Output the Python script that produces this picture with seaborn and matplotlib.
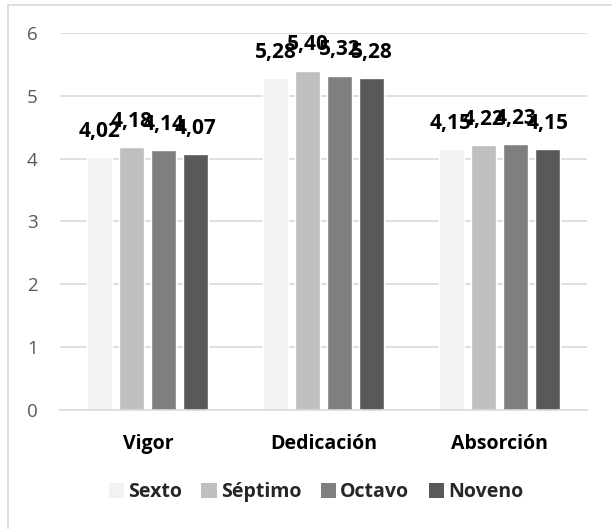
import matplotlib
matplotlib.use("Agg")
import matplotlib.pyplot as plt
import seaborn as sns
import pandas as pd
from matplotlib.patches import Rectangle
from matplotlib.lines import Line2D

categories = ["Vigor", "Dedicación", "Absorción"]
grades = ["Sexto", "Séptimo", "Octavo", "Noveno"]
sexto = [4.02, 5.28, 4.15]
septimo = [4.18, 5.40, 4.22]
octavo = [4.14, 5.32, 4.23]
noveno = [4.07, 5.28, 4.15]
yticks = [0, 1, 2, 3, 4, 5, 6]
colors = ["#F2F2F2", "#BFBFBF", "#7F7F7F", "#595959"]

rows = []
for g, vals in zip(grades, [sexto, septimo, octavo, noveno]):
    for c, v in zip(categories, vals):
        rows.append({"cat": c, "grade": g, "val": v})
df = pd.DataFrame(rows)

sns.set_theme(style="white")
plt.rcParams["font.family"] = ["Open Sans", "DejaVu Sans"]

fig = plt.figure(figsize=(6.12, 5.29), dpi=100)
ax = fig.add_axes([60/612, 1-410/529, (587-60)/612, (410-33)/529])

sns.barplot(data=df, x="cat", y="val", hue="grade", order=categories,
            hue_order=grades, palette=colors, width=0.73, gap=0.22,
            ax=ax, legend=False, saturation=1)

ax.set_ylim(0, 6)
ax.set_xlim(-0.5, 2.5)
ax.set_yticks(yticks)
ax.set_yticklabels([str(t) for t in yticks], fontsize=13.5, color="#595959")
ax.yaxis.grid(True, color="#D9D9D9", linewidth=1.2)
ax.set_axisbelow(True)
for s in ["top", "right", "left"]:
    ax.spines[s].set_visible(False)
ax.spines["bottom"].set_color("#D9D9D9")
ax.spines["bottom"].set_linewidth(1.2)
ax.tick_params(axis="y", length=0, pad=16)
ax.tick_params(axis="x", length=0, pad=17)
for lbl in ax.get_xticklabels():
    lbl.set_fontweight("bold")
    lbl.set_fontsize(14)
    lbl.set_color("black")
ax.set_xlabel("")
ax.set_ylabel("")

for cont in ax.containers:
    labels = [f"{b.get_height():.2f}".replace(".", ",") for b in cont]
    ax.bar_label(cont, labels=labels, padding=11, fontsize=15,
                 fontweight="bold", color="black")

handles = [Rectangle((0, 0), 1, 1, facecolor=c, edgecolor="none") for c in colors]
fig.legend(handles, grades, loc="center", bbox_to_anchor=(316/612, 1-492/529),
           ncol=4, frameon=False, handlelength=0.8, handleheight=0.8,
           handletextpad=0.2, columnspacing=1.0,
           prop={"weight": "bold", "size": 14})

fig.add_artist(Line2D([8/612, 8/612], [0, 1-5/529], color="#D9D9D9", lw=1.2,
                      transform=fig.transFigure))
fig.add_artist(Line2D([8/612, 1], [1-5/529, 1-5/529], color="#D9D9D9", lw=1.2,
                      transform=fig.transFigure))

fig.savefig("out.png", dpi=100)
